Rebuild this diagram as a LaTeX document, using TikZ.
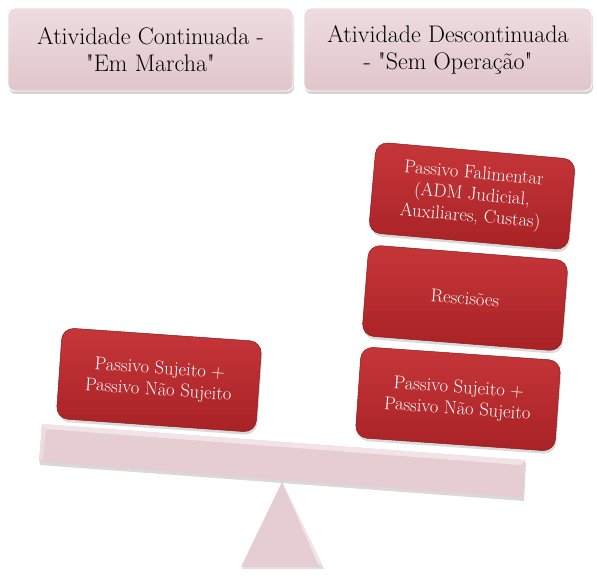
\documentclass[tikz,border=0pt]{standalone}
\usepackage{fontspec}
\usetikzlibrary{shadows}
\definecolor{pinktop}{HTML}{EEDCDF}
\definecolor{pinkbot}{HTML}{E0C6CA}
\definecolor{redtop}{HTML}{C63639}
\definecolor{redbot}{HTML}{A82226}
\definecolor{beamcol}{HTML}{E6CDD1}
\definecolor{beamlight}{HTML}{F2E4E6}
\tikzset{
  headbox/.style={rounded corners=7pt, minimum height=83pt, top color=pinktop, bottom color=pinkbot,
    draw=white, line width=0.8pt, align=center, inner sep=2pt,
    font=\fontsize{24}{27}\selectfont,
    drop shadow={opacity=0.35, shadow xshift=1pt, shadow yshift=-3pt}},
  redbox/.style={rounded corners=12pt, minimum width=200pt, minimum height=91pt,
    top color=redtop, bottom color=redbot, draw=redbot!80!black, line width=0.5pt,
    text=white, align=center, inner sep=2pt,
    font=\fontsize{18.5}{21.5}\selectfont,
    drop shadow={opacity=0.3, shadow xshift=1pt, shadow yshift=-3pt}},
}
\begin{document}
\begin{tikzpicture}[x=1pt,y=-1pt]
\useasboundingbox (0,0) rectangle (597,585);
% headers
\node[headbox, minimum width=285pt] (cont) at (150.5,49.5) {Atividade Continuada -\\\textquotedbl Em Marcha\textquotedbl};
\node[headbox, minimum width=288pt] (desc) at (448,49.5) {Atividade Descontinuada\\- \textquotedbl Sem Operação\textquotedbl};
% fulcrum
\fill[beamcol, drop shadow={opacity=0.25, shadow xshift=1pt, shadow yshift=-2pt}] (282,482) -- (241,567) -- (323,567) -- cycle;
\fill[beamlight] (282,482) -- (323,567) -- (318,564) -- cycle;
% beam
\fill[beamcol, drop shadow={opacity=0.3, shadow xshift=1pt, shadow yshift=-3pt}]
  (42,424) -- (525,460) -- (523,498) -- (39,462) -- cycle;
\fill[beamlight] (42,424) -- (525,460) -- (521,465) -- (46,429) -- cycle;
\fill[beamlight!60!beamcol] (42,424) -- (46,429) -- (43,458) -- (39,462) -- cycle;
% left pan
\node[redbox, rotate=-4] (left) at (159,380) {Passivo Sujeito +\\Passivo Não Sujeito};
% right pan
\node[redbox, rotate=-4] (rbot) at (458,399) {Passivo Sujeito +\\Passivo Não Sujeito};
\node[redbox, rotate=-4.5] (rmid) at (465,298) {Rescisões};
\node[redbox, rotate=-5] (rtop) at (472,196) {Passivo Falimentar\\(ADM Judicial,\\Auxiliares, Custas)};
\end{tikzpicture}
\end{document}
